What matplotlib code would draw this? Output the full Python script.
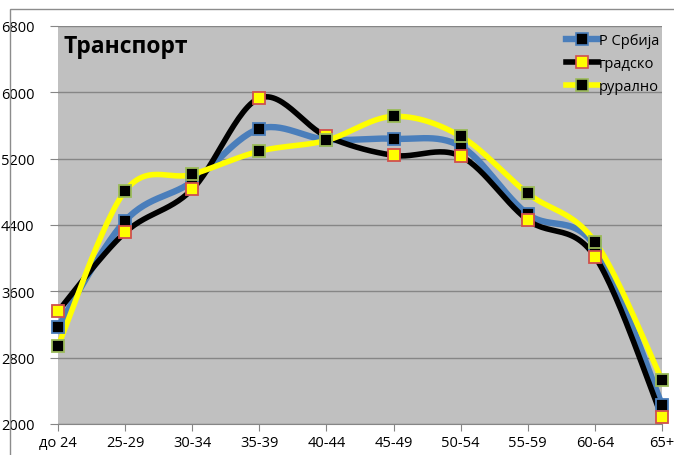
import numpy as np
import matplotlib
matplotlib.use("Agg")
import matplotlib.pyplot as plt
from matplotlib.patches import Rectangle
from matplotlib.lines import Line2D

plt.rcParams['font.family'] = ['Open Sans', 'DejaVu Sans']

categories = ["до 24", "25-29", "30-34", "35-39", "40-44", "45-49", "50-54", "55-59", "60-64", "65+"]
srbija = [3170, 4450, 4920, 5560, 5430, 5440, 5350, 4530, 4150, 2230]
gradsko = [3360, 4310, 4830, 5930, 5470, 5240, 5230, 4460, 4020, 2080]
ruralno = [2940, 4810, 5010, 5290, 5420, 5710, 5470, 4780, 4200, 2530]
series_names = ["Р Србија", "градско", "рурално"]
yticks = [2000, 2800, 3600, 4400, 5200, 6000, 6800]


def smooth(y, n=30):
    x = np.arange(len(y), dtype=float)
    y = np.asarray(y, dtype=float)
    P = np.column_stack([x, y])
    Pp = np.vstack([P[0], P, P[-1]])
    out = []
    for i in range(len(P) - 1):
        p0, p1, p2, p3 = Pp[i], Pp[i + 1], Pp[i + 2], Pp[i + 3]
        c1 = p1 + (p2 - p0) / 6.0
        c2 = p2 - (p3 - p1) / 6.0
        t = np.linspace(0, 1, n)[:, None]
        seg = ((1 - t) ** 3) * p1 + 3 * ((1 - t) ** 2) * t * c1 + 3 * (1 - t) * t ** 2 * c2 + t ** 3 * p2
        out.append(seg if i == 0 else seg[1:])
    s = np.vstack(out)
    return s[:, 0], s[:, 1]


W, H = 674, 456
fig = plt.figure(figsize=(W / 100, H / 100), dpi=100)
fig.patch.set_facecolor('white')
fig.patches.append(Rectangle((10 / W, -0.1), 2, 1 - 10 / H + 0.1, transform=fig.transFigure,
                             fill=False, edgecolor='#8c8c8c', linewidth=1.0))

left, right, top, bottom = 58, 662, 27, 425
ax = fig.add_axes([left / W, 1 - bottom / H, (right - left) / W, (bottom - top) / H])
ax.set_facecolor('#c0c0c0')
ax.set_xlim(0, len(categories) - 1)
ax.set_ylim(2000, 6800)
ax.set_yticks(yticks)
ax.set_yticklabels([str(v) for v in yticks])
ax.set_xticks(range(len(categories)))
ax.set_xticklabels(categories)
ax.grid(axis='y', color='#868686', linewidth=1.0)
ax.set_axisbelow(True)
for s in ['top', 'right']:
    ax.spines[s].set_visible(False)
ax.spines['left'].set_visible(False)
ax.spines['bottom'].set_color('#868686')
ax.tick_params(axis='y', length=6, color='#868686', labelsize=10.5, pad=2)
ax.tick_params(axis='x', length=5, color='#868686', labelsize=10.5, pad=3)
for lab in ax.get_yticklabels():
    lab.set_horizontalalignment('left')
    lab.set_x(-46 / (right - left))

styles = [
    dict(color='#4a7ebb', lw=4.6, mfc='black', mec='#4a7ebb'),
    dict(color='black', lw=4.0, mfc='#ffff00', mec='#d0504d'),
    dict(color='#ffff00', lw=4.0, mfc='black', mec='#9bbb59'),
]
data = [srbija, gradsko, ruralno]
x = np.arange(len(categories))
for d, st in zip(data, styles):
    sx, sy = smooth(d)
    ax.plot(sx, sy, color=st['color'], lw=st['lw'], solid_capstyle='round', clip_on=False, zorder=3)
for d, st in zip(data, styles):
    ax.plot(x, d, linestyle='none', marker='s', markersize=8.5, markerfacecolor=st['mfc'],
            markeredgecolor=st['mec'], markeredgewidth=1.3, clip_on=False, zorder=5)

handles = [Line2D([0], [0], color=st['color'], lw=st['lw'], marker='s', markersize=8,
                  markerfacecolor=st['mfc'], markeredgecolor=st['mec'], markeredgewidth=1.2)
           for st in styles]
leg = ax.legend(handles, series_names, loc='upper right', bbox_to_anchor=(1.012, 1.008), frameon=False,
                fontsize=10.5, handlelength=2.2, handletextpad=0.05, labelspacing=0.55,
                borderaxespad=0.3)

ax.text(6 / (right - left), 1 - 20 / (bottom - top), "Транспорт", transform=ax.transAxes,
        fontsize=16.5, fontweight='bold', ha='left', va='center')

fig.savefig('out.png', dpi=100)
